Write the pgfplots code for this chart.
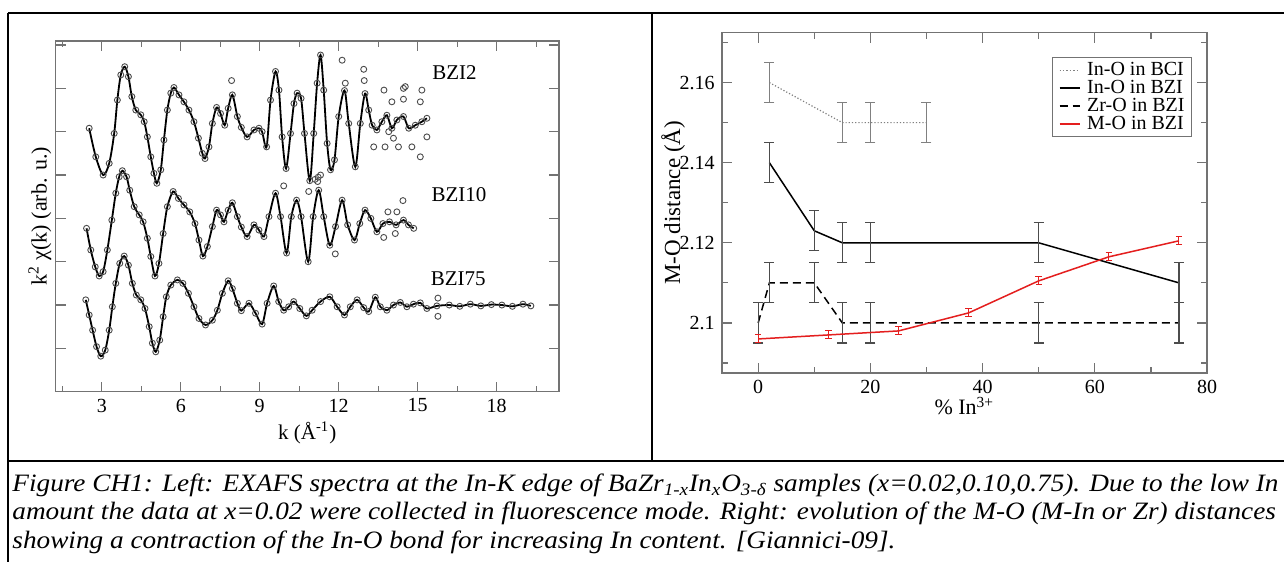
\documentclass[border=0pt]{standalone}
\usepackage{fontspec}
\setmainfont{Liberation Serif}
\newfontfamily\capfont[FakeStretch=1.09]{Liberation Serif}
\usepackage{pgfplots}
\usepackage{pgfplotstable}
\pgfplotsset{compat=1.18}
\definecolor{myred}{RGB}{228,30,30}
\definecolor{framegray}{RGB}{115,115,115}

\pgfplotstableread{
k y
2.52 6.08
2.77 5.42
3.05 5.00
3.28 5.27
3.47 5.96
3.59 6.73
3.72 7.31
3.87 7.50
4.01 7.27
4.14 6.81
4.29 6.50
4.48 6.39
4.61 6.23
4.73 5.88
4.86 5.42
4.98 5.04
5.09 4.81
5.24 5.12
5.36 5.81
5.49 6.50
5.62 6.89
5.74 7.02
5.93 6.85
6.12 6.69
6.31 6.50
6.50 6.23
6.67 5.85
6.82 5.50
6.92 5.38
7.07 5.65
7.20 6.19
7.36 6.56
7.51 6.42
7.67 6.15
7.80 6.54
7.96 6.85
8.15 6.35
8.30 6.10
8.52 5.88
8.78 6.04
8.97 6.08
9.09 6.00
9.26 5.65
9.41 6.73
9.60 7.39
9.73 6.96
9.85 5.88
10.00 5.15
10.17 5.96
10.30 6.65
10.42 6.89
10.57 6.77
10.70 5.96
10.90 4.87
11.05 5.96
11.18 7.12
11.31 7.77
11.43 6.96
11.56 5.73
11.69 5.12
11.84 5.35
12.00 6.35
12.22 6.95
12.38 6.19
12.63 5.19
12.82 6.19
13.00 6.88
13.14 6.50
13.27 6.15
13.45 6.04
13.64 6.23
13.83 6.38
14.02 6.08
14.21 6.27
14.46 6.35
14.66 6.08
14.91 6.15
15.16 6.23
15.35 6.31
}\bzitwo

\pgfplotstableread{
k y
7.93 7.18
11.10 4.90
11.22 4.95
12.13 7.65
12.25 7.12
12.95 7.44
12.97 7.18
13.72 6.96
14.46 7.00
14.53 7.04
15.16 6.96
14.02 6.69
14.46 6.75
15.10 6.69
13.33 5.65
13.76 5.65
14.08 5.85
14.27 5.65
14.78 5.65
15.10 5.42
15.35 5.88
13.90 6.00
9.91 4.75
10.86 4.62
11.31 5.00
11.20 4.85
14.44 4.41
11.87 3.18
13.87 4.15
14.21 4.15
13.71 3.56
14.15 3.65
15.77 2.16
15.77 1.74
}\outliers

\pgfplotstableread{
k y
2.42 3.77
2.58 3.27
2.75 2.88
2.90 2.67
3.05 2.77
3.21 3.27
3.38 3.96
3.53 4.58
3.66 4.96
3.78 5.10
3.94 4.96
4.06 4.65
4.23 4.27
4.42 4.08
4.57 3.92
4.73 3.54
4.86 3.12
5.02 2.67
5.17 2.96
5.33 3.65
5.49 4.27
5.71 4.62
5.91 4.46
6.12 4.31
6.34 4.15
6.54 3.88
6.69 3.50
6.84 3.13
7.01 3.35
7.20 3.81
7.36 4.19
7.51 4.08
7.64 3.92
7.80 4.19
7.96 4.36
8.15 4.04
8.30 3.80
8.52 3.58
8.78 3.85
8.97 3.73
9.16 3.58
9.35 4.04
9.60 4.58
9.79 4.04
10.02 3.20
10.20 4.04
10.40 4.42
10.57 4.04
10.84 3.00
11.03 4.04
11.24 4.65
11.43 4.04
11.66 3.38
11.88 3.81
12.13 4.42
12.34 3.85
12.60 3.50
12.80 3.88
13.00 4.19
13.22 4.00
13.45 3.69
13.68 3.88
13.93 3.92
14.18 3.85
14.46 3.96
14.65 3.85
14.85 3.77
}\bziten

\pgfplotstableread{
k y
2.39 2.12
2.52 1.77
2.65 1.42
2.80 1.04
2.96 0.82
3.13 0.96
3.28 1.42
3.40 1.96
3.53 2.50
3.68 2.96
3.85 3.13
4.01 2.92
4.16 2.50
4.31 2.23
4.48 2.12
4.64 1.92
4.80 1.50
4.92 1.12
5.05 0.92
5.20 1.19
5.33 1.73
5.45 2.19
5.62 2.46
5.87 2.58
6.08 2.50
6.29 2.27
6.50 1.96
6.69 1.69
6.94 1.54
7.20 1.65
7.39 1.88
7.58 2.27
7.80 2.56
7.96 2.38
8.15 2.04
8.30 1.87
8.59 2.04
8.84 1.81
9.09 1.56
9.28 2.04
9.53 2.44
9.72 2.08
9.91 1.88
10.10 1.96
10.29 2.08
10.52 1.92
10.77 1.75
10.99 1.88
11.31 2.08
11.66 2.19
11.94 1.96
12.22 1.77
12.44 1.96
12.70 2.12
12.95 1.94
13.14 1.85
13.39 2.18
13.58 1.96
13.83 1.88
14.08 2.00
14.34 2.06
14.59 1.96
14.84 2.02
15.10 2.05
15.35 1.92
15.73 1.98
16.20 2.00
16.60 1.97
17.00 2.02
17.40 1.98
17.80 2.01
18.20 2.00
18.60 1.97
19.00 2.02
19.30 1.98
}\bziseventyfive

\pgfplotstableread{
x y e
2 2.16 0.005
15 2.15 0.005
20 2.15 0.005
30 2.15 0.005
}\bcitab

\pgfplotstableread{
x y e
2 2.14 0.005
10 2.123 0.005
15 2.12 0.005
20 2.12 0.005
50 2.12 0.005
75 2.11 0.005
}\inotab

\pgfplotstableread{
x y e
0 2.1 0.005
2 2.11 0.005
10 2.11 0.005
15 2.1 0.005
20 2.1 0.005
50 2.1 0.005
75 2.1 0.005
}\zrotab

\pgfplotstableread{
x y e
0 2.096 0.001
12.5 2.097 0.001
25 2.098 0.001
37.5 2.1025 0.001
50 2.1105 0.001
62.5 2.1165 0.001
75 2.1205 0.001
}\motab

\begin{document}
\begin{tikzpicture}
\useasboundingbox (0,0) rectangle (642pt,281pt);
\fill[white] (0,0) rectangle (642pt,281pt);
% table borders
\draw[line width=0.9pt] (4pt,274.5pt) -- (642pt,274.5pt);
\draw[line width=0.9pt] (4pt,274.5pt) -- (4pt,0pt);
\draw[line width=0.9pt] (4pt,50.5pt) -- (642pt,50.5pt);
\draw[line width=0.9pt] (326pt,274.5pt) -- (326pt,50.5pt);

% ---------- left panel ----------
\begin{axis}[
  at={(27.75pt,85.15pt)}, anchor=south west, scale only axis,
  width=251.75pt, height=175.5pt,
  xmin=1.24, xmax=20.37, ymin=0, ymax=8.1,
  xtick={3,6,9,12,15,18}, minor xtick={1.5,4.5,7.5,10.5,13.5,16.5,19.5},
  ytick={1,2,3,4,5,6,7,8}, yticklabels={},
  tick align=inside, major tick length=5pt, minor tick length=3pt,
  axis line style={framegray, line width=0.8pt},
  every tick/.style={framegray, line width=0.6pt},
  tick label style={font=\fontsize{10}{10}\selectfont},
  /pgf/number format/assume math mode=true,
  xlabel={k (Å\textsuperscript{-1})},
  ylabel={k\textsuperscript{2} χ(k) (arb. u.)},
  xlabel style={font=\fontsize{10.5}{12}\selectfont, at={(axis description cs:0.5,-0.118)}, anchor=center},
  ylabel style={font=\fontsize{11}{12}\selectfont, at={(axis description cs:-0.031,0.5)}, anchor=center},
]
\addplot[only marks, mark=o, mark size=1.5pt, mark options={gray!60!black, line width=0.45pt}] table {\bzitwo};
\addplot[only marks, mark=o, mark size=1.5pt, mark options={gray!60!black, line width=0.45pt}] table {\bziten};
\addplot[only marks, mark=o, mark size=1.5pt, mark options={gray!60!black, line width=0.45pt}] table {\bziseventyfive};
\addplot[only marks, mark=o, mark size=1.5pt, mark options={gray!60!black, line width=0.45pt}] table {\outliers};
\addplot[black, line width=0.9pt, smooth, tension=0.5, no marks] table {\bzitwo};
\addplot[black, line width=0.9pt, smooth, tension=0.5, no marks] table {\bziten};
\addplot[black, line width=0.9pt, smooth, tension=0.5, no marks] table {\bziseventyfive};
\node[font=\fontsize{10.5}{12}\selectfont] at (axis cs:16.4,7.36) {BZI2};
\node[font=\fontsize{10.5}{12}\selectfont] at (axis cs:16.57,4.54) {BZI10};
\node[font=\fontsize{10.5}{12}\selectfont] at (axis cs:16.54,2.6) {BZI75};
\end{axis}

% ---------- right panel ----------
\begin{axis}[
  at={(360.85pt,94.5pt)}, anchor=south west, scale only axis,
  width=242.65pt, height=170.25pt,
  xmin=-6.5, xmax=80, ymin=2.0875, ymax=2.1725,
  xtick={0,20,40,60,80}, minor xtick={10,30,50,70},
  ytick={2.1,2.12,2.14,2.16}, yticklabels={2.1,2.12,2.14,2.16},
  minor ytick={2.09,2.11,2.13,2.15,2.17},
  tick align=inside, major tick length=5pt, minor tick length=3pt,
  axis line style={framegray, line width=0.8pt},
  every tick/.style={framegray, line width=0.6pt},
  tick label style={font=\fontsize{10}{10}\selectfont},
  /pgf/number format/assume math mode=true,
  xlabel={\% In\textsuperscript{3+}},
  ylabel={M-O distance (Å)},
  xlabel style={font=\fontsize{11}{12}\selectfont, at={(axis description cs:0.5,-0.097)}, anchor=center},
  ylabel style={font=\fontsize{11.5}{12}\selectfont, at={(axis description cs:-0.1,0.5)}, anchor=center},
  legend style={at={(axis description cs:0.969,0.9285)}, anchor=north east,
    draw=framegray, line width=0.6pt, font=\fontsize{10}{10}\selectfont,
    nodes={inner sep=0.4pt}, row sep=0pt, inner xsep=3pt, inner ysep=2pt,
    column sep=3pt, cells={anchor=west}},
  legend image code/.code={\draw[#1] (0pt,0pt) -- (10pt,0pt);},
]
\addlegendimage{gray, densely dotted, line width=0.7pt}
\addlegendentry{In-O in BCI}
\addlegendimage{black, line width=0.9pt}
\addlegendentry{In-O in BZI}
\addlegendimage{black, line width=0.9pt, dash pattern=on 4pt off 2.5pt}
\addlegendentry{Zr-O in BZI}
\addlegendimage{color=myred, line width=0.9pt}
\addlegendentry{M-O in BZI}
\addplot[forget plot, gray, densely dotted, line width=0.6pt,
  error bars/.cd, y dir=both, y explicit,
  error bar style={gray, solid, line width=0.6pt},
  error mark options={rotate=90, mark size=2.5pt, gray, solid, line width=0.6pt}]
  table[x=x, y=y, y error=e] {\bcitab};
\addplot[forget plot, black, line width=0.75pt,
  error bars/.cd, y dir=both, y explicit,
  error bar style={black!70, solid, line width=0.6pt},
  error mark options={rotate=90, mark size=2.5pt, black!70, solid, line width=0.6pt}]
  table[x=x, y=y, y error=e] {\inotab};
\addplot[forget plot, black, line width=0.75pt, dash pattern=on 4pt off 2.5pt,
  error bars/.cd, y dir=both, y explicit,
  error bar style={black!70, solid, line width=0.6pt},
  error mark options={rotate=90, mark size=2.5pt, black!70, solid, line width=0.6pt}]
  table[x=x, y=y, y error=e] {\zrotab};
\addplot[forget plot, myred, line width=0.75pt,
  error bars/.cd, y dir=both, y explicit,
  error bar style={myred, solid, line width=0.5pt},
  error mark options={rotate=90, mark size=1.6pt, myred, solid, line width=0.5pt}]
  table[x=x, y=y, y error=e] {\motab};
\end{axis}

% ---------- caption ----------
\begin{scope}[every node/.style={anchor=base west, inner sep=0pt, font=\capfont\fontsize{12.5}{14}\selectfont\itshape}]
\node at (6pt,35pt) {Figure CH1: Left: EXAFS spectra at the In-K edge of BaZr\textsubscript{1-x}In\textsubscript{x}O\textsubscript{3-δ} samples (x=0.02,0.10,0.75). Due to the low In};
\node at (6pt,21pt) {amount the data at x=0.02 were collected in fluorescence mode. Right: evolution of the M-O (M-In or Zr) distances};
\node at (6pt,7pt) {showing a contraction of the In-O bond for increasing In content. [Giannici-09].};
\end{scope}
\end{tikzpicture}
\end{document}
